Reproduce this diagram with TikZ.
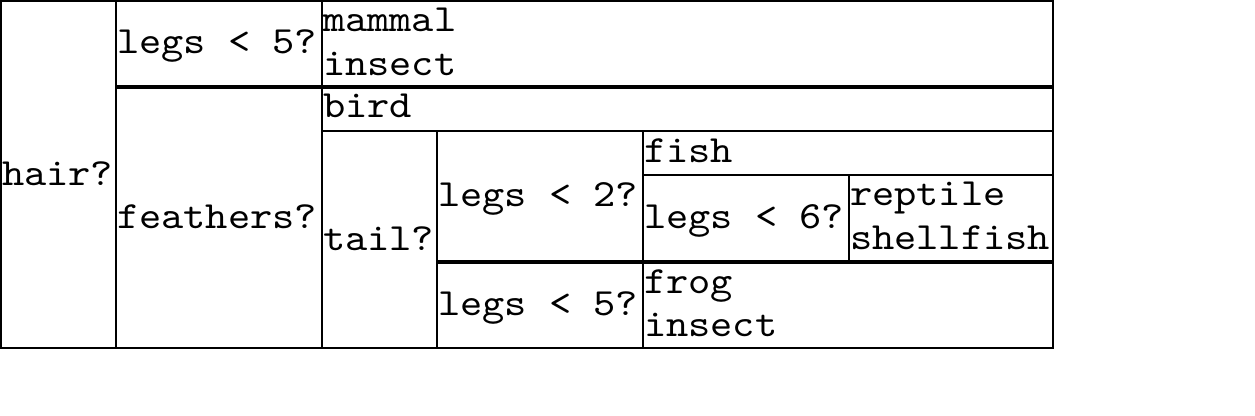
\documentclass[tikz,border=0pt]{standalone}
\usepackage{fontspec}
\newfontfamily\courfont[FakeStretch=1.10]{lmmono10-regular.otf}
\begin{document}
\begin{tikzpicture}[x=1pt,y=-1pt,
  cell/.style={anchor=base west, inner sep=0pt, outer sep=0pt, font=\courfont\fontsize{38.5}{44}\selectfont},
  thinl/.style={line width=2pt, black},
  thickl/.style={line width=4pt, black}]
\useasboundingbox (0,0) rectangle (1255,415);
% grid
\draw[thinl] (1,1) rectangle (1053,348);
\draw[thinl] (116,1) -- (116,348);
\draw[thinl] (322,1) -- (322,348);
\draw[thickl] (116,87) -- (1053,87);
\draw[thinl] (322,131) -- (1053,131);
\draw[thinl] (437,131) -- (437,348);
\draw[thinl] (643,131) -- (643,348);
\draw[thinl] (643,175) -- (1053,175);
\draw[thinl] (849,175) -- (849,262);
\draw[thickl] (437,262) -- (1053,262);
% texts
\node[cell] (hair) at (2,185) {hair?};
\node[cell] (legsA) at (117,53) {legs < 5?};
\node[cell] (mammal) at (323,31) {mammal};
\node[cell] (insectA) at (323,75) {insect};
\node[cell] (feathers) at (117,228) {feathers?};
\node[cell] (bird) at (323,117) {bird};
\node[cell] (tail) at (323,250) {tail?};
\node[cell] (legsB) at (438,206) {legs < 2?};
\node[cell] (fish) at (644,162) {fish};
\node[cell] (legsC) at (644,228) {legs < 6?};
\node[cell] (reptile) at (850,205) {reptile};
\node[cell] (shellfish) at (850,249) {shellfish};
\node[cell] (legsD) at (438,315) {legs < 5?};
\node[cell] (frog) at (644,293) {frog};
\node[cell] (insectB) at (644,336) {insect};
\end{tikzpicture}
\end{document}
